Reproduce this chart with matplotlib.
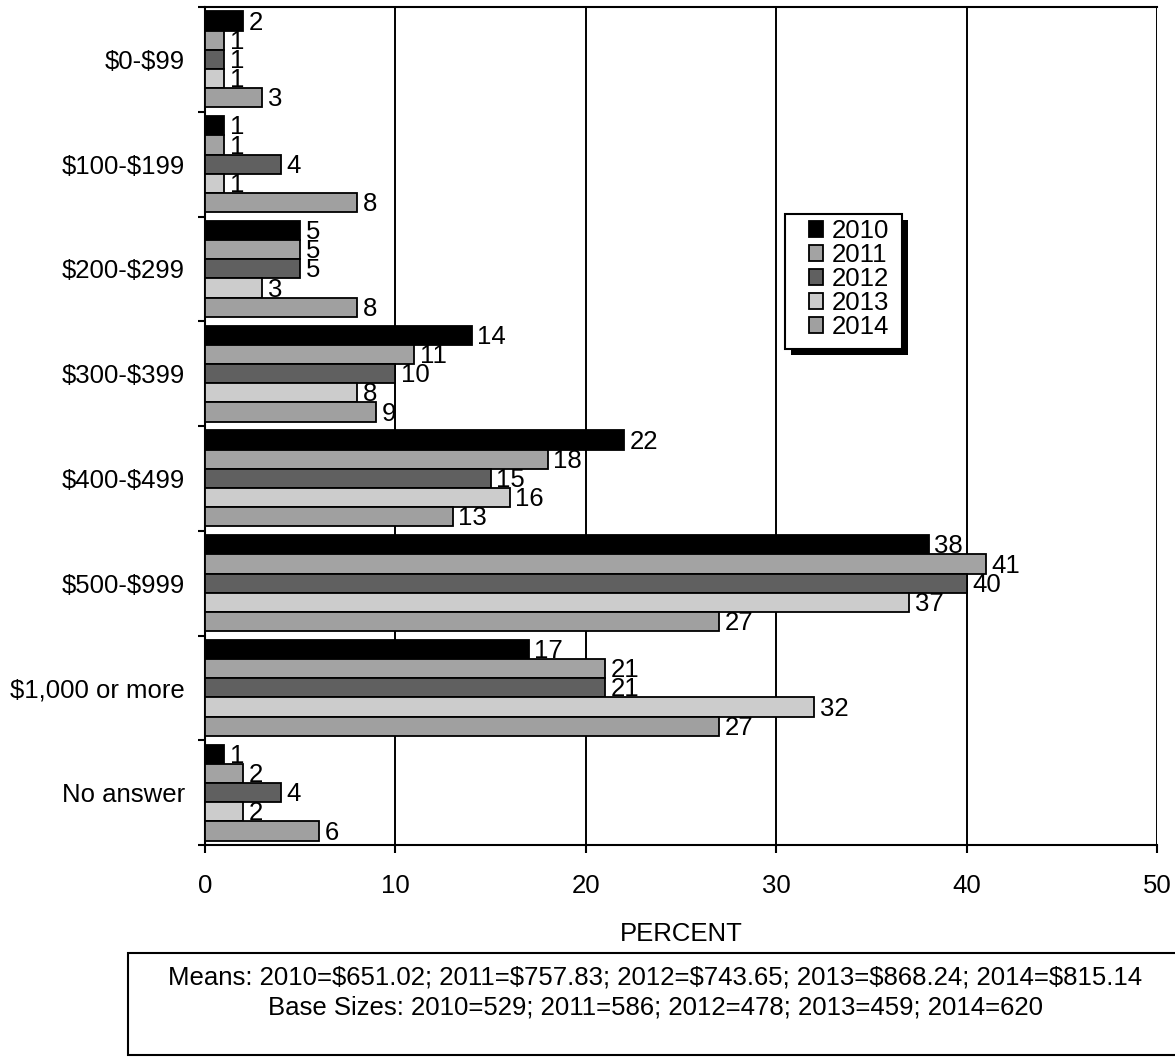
import matplotlib
matplotlib.use("Agg")
import matplotlib.pyplot as plt
import numpy as np
from matplotlib.patches import Rectangle

plt.rcParams['font.family'] = ['Liberation Sans', 'DejaVu Sans']

categories = ["$0-$99", "$100-$199", "$200-$299", "$300-$399", "$400-$499",
              "$500-$999", "$1,000 or more", "No answer"]
years = ["2010", "2011", "2012", "2013", "2014"]
v2010 = [2, 1, 5, 14, 22, 38, 17, 1]
v2011 = [1, 1, 5, 11, 18, 41, 21, 2]
v2012 = [1, 4, 5, 10, 15, 40, 21, 4]
v2013 = [1, 1, 3, 8, 16, 37, 32, 2]
v2014 = [3, 8, 8, 9, 13, 27, 27, 6]
series = [v2010, v2011, v2012, v2013, v2014]
colors = ["#000000", "#a3a3a3", "#606060", "#cccccc", "#a0a0a0"]
xticks = [0, 10, 20, 30, 40, 50]
footnote1 = "Means: 2010=$651.02; 2011=$757.83; 2012=$743.65; 2013=$868.24; 2014=$815.14"
footnote2 = "Base Sizes: 2010=529; 2011=586; 2012=478; 2013=459; 2014=620"


def esc(s):
    return s.replace("$", r"\$")


FS = 18.5
fig = plt.figure(figsize=(11.75, 10.57), dpi=100)
W, H = 1175, 1057
ax = fig.add_axes([205 / W, 1 - 845 / H, (1157 - 205) / W, (845 - 7) / H])

n = len(categories)
h = 0.183
y = np.arange(n)
handles = []
for j, (vals, c, yr) in enumerate(zip(series, colors, years)):
    pos = y + (j - 2) * h
    b = ax.barh(pos, vals, height=h, color=c, edgecolor="black", linewidth=1.3,
                label=yr, zorder=3)
    handles.append(b)
    for p, v in zip(pos, vals):
        ax.text(v + 0.3, p + 0.015, str(v), va="center", ha="left", fontsize=FS, zorder=4)

ax.set_ylim(n - 0.5, -0.5)
ax.set_xlim(0, 50)
ax.set_xticks(xticks)
ax.set_xticklabels([str(t) for t in xticks], fontsize=FS)
ax.tick_params(axis="x", direction="out", length=6, width=1.5, pad=15)
ax.set_yticks(np.arange(-0.5, n, 1.0))
ax.set_yticklabels([])
ax.set_yticks(y, minor=True)
ax.set_yticklabels([esc(c) for c in categories], minor=True, fontsize=FS)
ax.tick_params(axis="y", which="major", direction="out", length=5, width=1.5)
ax.tick_params(axis="y", which="minor", length=0, pad=14.5)
ax.grid(axis="x", color="black", linewidth=1.4, zorder=0)
for s in ["top", "left", "bottom"]:
    ax.spines[s].set_linewidth(1.5)
ax.spines["right"].set_visible(False)
ax.set_xlabel("PERCENT", fontsize=FS, labelpad=17)

# legend box with shadow (pixel coordinates of the reference)
lx0, ly0, lx1, ly1 = 785, 214, 902, 349
off = 6
ax.add_patch(Rectangle(((lx0 + off) / W, 1 - (ly1 + off) / H), (lx1 - lx0) / W, (ly1 - ly0) / H,
                       transform=fig.transFigure, facecolor="black", edgecolor="none",
                       zorder=8, clip_on=False))
ax.add_patch(Rectangle((lx0 / W, 1 - ly1 / H), (lx1 - lx0) / W, (ly1 - ly0) / H,
                       transform=fig.transFigure, facecolor="white", edgecolor="black",
                       linewidth=1.5, zorder=9, clip_on=False))
leg = ax.legend(handles=handles, labels=years, loc="upper left",
                bbox_to_anchor=(809 / W, 1 - 219 / H), bbox_transform=fig.transFigure,
                frameon=False, fontsize=FS, handlelength=0.55, handleheight=0.55,
                handletextpad=0.32, labelspacing=0.0, borderpad=0, borderaxespad=0)
leg.set_zorder(10)

box = Rectangle((128 / W, 1 - 1055 / H), (1190 - 128) / W, (1055 - 953) / H,
                transform=fig.transFigure, facecolor="white", edgecolor="black",
                linewidth=1.5, clip_on=False)
fig.patches.append(box)
fig.text(655 / W, 1 - 978 / H, esc(footnote1), ha="center", va="center", fontsize=FS)
fig.text(655 / W, 1 - 1008 / H, esc(footnote2), ha="center", va="center", fontsize=FS)

fig.savefig("out.png", dpi=100)
